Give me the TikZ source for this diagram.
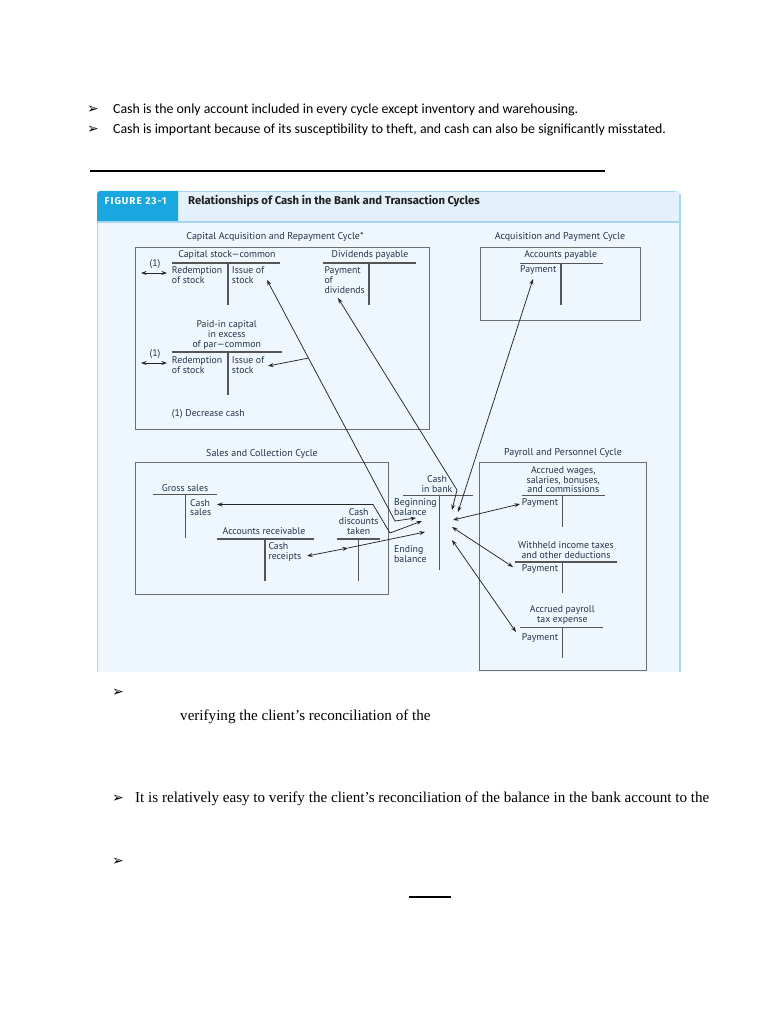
\documentclass[tikz,border=0pt]{standalone}
\usepackage{fontspec}
\setmainfont{Liberation Serif}
\newfontfamily\calfont{Carlito}
\newfontfamily\figfont{PT Sans}
\newfontfamily\headfont{Fira Sans}
\newfontfamily\headcaps[LetterSpace=10]{Fira Sans}
\newfontfamily\dvfont{DejaVu Sans}
\usetikzlibrary{arrows.meta,calc}
\definecolor{figbg}{HTML}{EEF7FD}
\definecolor{headbg}{HTML}{E2F1FB}
\definecolor{headcyan}{HTML}{1AA7E0}
\definecolor{figline}{HTML}{A6D6F0}
\definecolor{boxcol}{HTML}{6E6E6E}
\definecolor{tcol}{HTML}{555555}
\definecolor{labcol}{HTML}{23334A}
\begin{document}
\begin{tikzpicture}[x=1pt,y=-1pt,
  >={Stealth[length=5.5pt,width=4pt]},
  caltext/.style={font=\calfont\fontsize{13.85}{16}\selectfont, inner sep=0pt},
  tnrtext/.style={font=\fontsize{15.1}{17}\selectfont, inner sep=0pt},
  bullet/.style={font=\dvfont\fontsize{14}{14}\selectfont, inner sep=0pt},
  lbl/.style={font=\figfont\fontsize{9.8}{9.7}\selectfont, text=labcol, inner sep=0pt},
  lblw/.style={lbl, anchor=west, align=left},
  lblc/.style={lbl, align=center},
  ctitle/.style={font=\figfont\fontsize{10}{11}\selectfont, text=labcol, inner sep=0pt},
  cycbox/.style={draw=boxcol, line width=1pt},
  tline/.style={draw=tcol, line width=1.3pt},
  conn/.style={draw=black!85, line width=0.75pt},
]
\useasboundingbox[fill=white] (0,0) rectangle (768,1024);

% ---- top text
\node[bullet] (bu1) at (93,110) {➢};
\node[caltext, anchor=west] (t1) at (113,110) {Cash is the only account included in every cycle except inventory and warehousing.};
\node[bullet] (bu2) at (93,130) {➢};
\node[caltext, anchor=west] (t2) at (113,130) {Cash is important because of its susceptibility to theft, and cash can also be significantly misstated.};
\draw[line width=1.8pt] (90,171) -- (605,171);

% ---- figure frame
\fill[figbg] (97,191) rectangle (680,672);
\fill[headbg] (178,222) -- (178,191) [rounded corners=4pt] -- (680,191) [sharp corners] -- (680,222) -- cycle;
\fill[headcyan] (178,222) -- (178,191) [rounded corners=3pt] -- (97,191) [sharp corners] -- (97,222) -- cycle;
\draw[figline, line width=0.8pt] (178,191.4) -- (676,191.4);
\draw[figline, line width=1.3pt] (97,222) -- (680,222);
\draw[figline, line width=1pt] (97,222) -- (97,672);
\draw[figline, line width=1.3pt] (680,194) -- (680,672);
\node[anchor=west, font=\headcaps\bfseries\fontsize{10}{10}\selectfont, text=white, inner sep=0pt] (fig) at (104.5,201) {FIGURE 23-1};
\node[anchor=west, font=\headfont\bfseries\fontsize{11.3}{12}\selectfont, text=black!88, inner sep=0pt] (title) at (188,201) {Relationships of Cash in the Bank and Transaction Cycles};

% ---- cycle titles and boxes
\node[ctitle] (capT) at (275,237) {Capital Acquisition and Repayment Cycle*};
\node[ctitle] (acqT) at (560,237) {Acquisition and Payment Cycle};
\node[ctitle] (salT) at (262,454) {Sales and Collection Cycle};
\node[ctitle] (payT) at (563,453) {Payroll and Personnel Cycle};
\draw[cycbox] (135,247) rectangle (429,429);
\draw[cycbox] (480,247) rectangle (640,320);
\draw[cycbox] (135,462) rectangle (388,594);
\draw[cycbox] (479.5,462) rectangle (646,670);

% ---- T accounts
\draw[tline] (172,263) -- (280,263);   \draw[tline] (228,263) -- (228,305);
\draw[tline] (322.7,263) -- (416,263); \draw[tline] (369,263) -- (369,305);
\draw[tline] (172,352) -- (282,352);   \draw[tline] (228,352) -- (228,395);
\draw[tline] (520,263.5) -- (603,263.5); \draw[tline] (561,263.5) -- (561,305);
\draw[tline] (153,494.5) -- (217,494.5); \draw[tline] (185.3,494.5) -- (185.3,538);
\draw[tline] (217,539) -- (314,539);   \draw[tline] (265,539) -- (265,581);
\draw[tline] (337,539) -- (380,539);   \draw[tline] (358.7,539) -- (358.7,581);
\draw[tline] (403,495.5) -- (473,495.5); \draw[tline] (439.3,495.5) -- (439.3,570);
\draw[tline] (521.7,495.5) -- (605,495.5); \draw[tline] (562.7,495.5) -- (562.7,527);
\draw[tline] (515,562) -- (617,562);   \draw[tline] (562.7,562) -- (562.7,593);
\draw[tline] (520,627.5) -- (603,627.5); \draw[tline] (562.5,627.5) -- (562.5,658);

% ---- labels
\node[lblc] (csT) at (227,255) {Capital stock—common};
\node[lblw] (csR) at (171.7,275) {Redemption\\of stock};
\node[lblw] (csI) at (231.7,275) {Issue of\\stock};
\node[lblc] (dpT) at (370,255) {Dividends payable};
\node[lblw] (dpP) at (324.3,280) {Payment\\of\\dividends};
\node[lblc] (piT) at (226.7,335) {Paid-in capital\\in excess\\of par—common};
\node[lbl] (one1) at (155,264) {(1)};
\node[lbl] (one2) at (155,354) {(1)};
\node[lblw] (piR) at (171.7,365) {Redemption\\of stock};
\node[lblw] (piI) at (231.7,365) {Issue of\\stock};
\node[lblw] (dec) at (171.7,414) {(1) Decrease cash};
\node[lblc] (apT) at (560.7,255) {Accounts payable};
\node[lblw] (apP) at (520,270) {Payment};
\node[lblc] (gsT) at (185,488) {Gross sales};
\node[lblw] (gsC) at (190,507.5) {Cash\\sales};
\node[lblc] (arT) at (264,531) {Accounts receivable};
\node[lblw] (arC) at (268.3,551.7) {Cash\\receipts};
\node[lblc] (cdT) at (358.7,521.5) {Cash\\discounts\\taken};
\node[lblc] (cbT) at (437,484.3) {Cash\\in bank};
\node[lblw] (cbB) at (394,507.2) {Beginning\\balance};
\node[lblw] (cbE) at (394,553.8) {Ending\\balance};
\node[lblc] (awT) at (563.3,479.7) {Accrued wages,\\salaries, bonuses,\\and commissions};
\node[lblw] (awP) at (521.7,502.7) {Payment};
\node[lblc] (wiT) at (566,550) {Withheld income taxes\\and other deductions};
\node[lblw] (wiP) at (521.7,569) {Payment};
\node[lblc] (apxT) at (562.3,615.3) {Accrued payroll\\tax expense};
\node[lblw] (apxP) at (521.7,638.3) {Payment};

% ---- connector end points
\coordinate (pL1a) at (141,273);  \coordinate (pL1b) at (167,273);
\coordinate (pL2a) at (141,363);  \coordinate (pL2b) at (167,363);
\coordinate (pCSiss) at (267,280);
\coordinate (pAkink) at (395,521);
\coordinate (pAbank) at (416,518);
\coordinate (pBranch) at ($(pCSiss)!0.324!(pAkink)$);
\coordinate (pPIiss) at (268,366);
\coordinate (pCsales) at (217,504.5);
\coordinate (pB1) at (373,504.5);
\coordinate (pB2) at (390,533);
\coordinate (pBbank) at (422,521);
\coordinate (pRec) at (307,556);
\coordinate (pDisc) at (348,548);
\coordinate (pCbank) at (425,532);
\coordinate (pDiv) at (338,298);
\coordinate (pDkink) at (457,490);
\coordinate (pDbank) at (452,510);
\coordinate (pAP) at (533,279);
\coordinate (pAPbank) at (458,512);
\coordinate (pW1) at (453,520);  \coordinate (pW1p) at (520,504);
\coordinate (pW2) at (452,527);  \coordinate (pW2p) at (513,567);
\coordinate (pW3) at (452,540);  \coordinate (pW3p) at (516,632);

% ---- connectors
\draw[conn,<->] (pL1a) -- (pL1b);
\draw[conn,<->] (pL2a) -- (pL2b);
\draw[conn,<->] (pCSiss) -- (pAkink) -- (pAbank);
\draw[conn,->] (pBranch) -- (pPIiss);
\draw[conn,<->] (pCsales) -- (pB1) -- (pB2) -- (pBbank);
\draw[conn,<->] (pRec) -- (pDisc);
\draw[conn,->] (pDisc) -- (pCbank);
\draw[conn,<->] (pDiv) -- (pDkink) -- (pDbank);
\draw[conn,<->] (pAP) -- (pAPbank);
\draw[conn,<->] (pW1) -- (pW1p);
\draw[conn,<->] (pW2) -- (pW2p);
\draw[conn,<->] (pW3) -- (pW3p);

% ---- text below the figure
\node[bullet] (bu3) at (118,693) {➢};
\node[tnrtext, anchor=west] (ver) at (180,717) {verifying the client’s reconciliation of the};
\node[bullet] (bu4) at (118,799) {➢};
\node[tnrtext, anchor=west] (easy) at (135,799) {It is relatively easy to verify the client’s reconciliation of the balance in the bank account to the};
\node[bullet] (bu5) at (118,862) {➢};
\draw[line width=1.5pt] (409,897) -- (451,897);
\end{tikzpicture}
\end{document}
